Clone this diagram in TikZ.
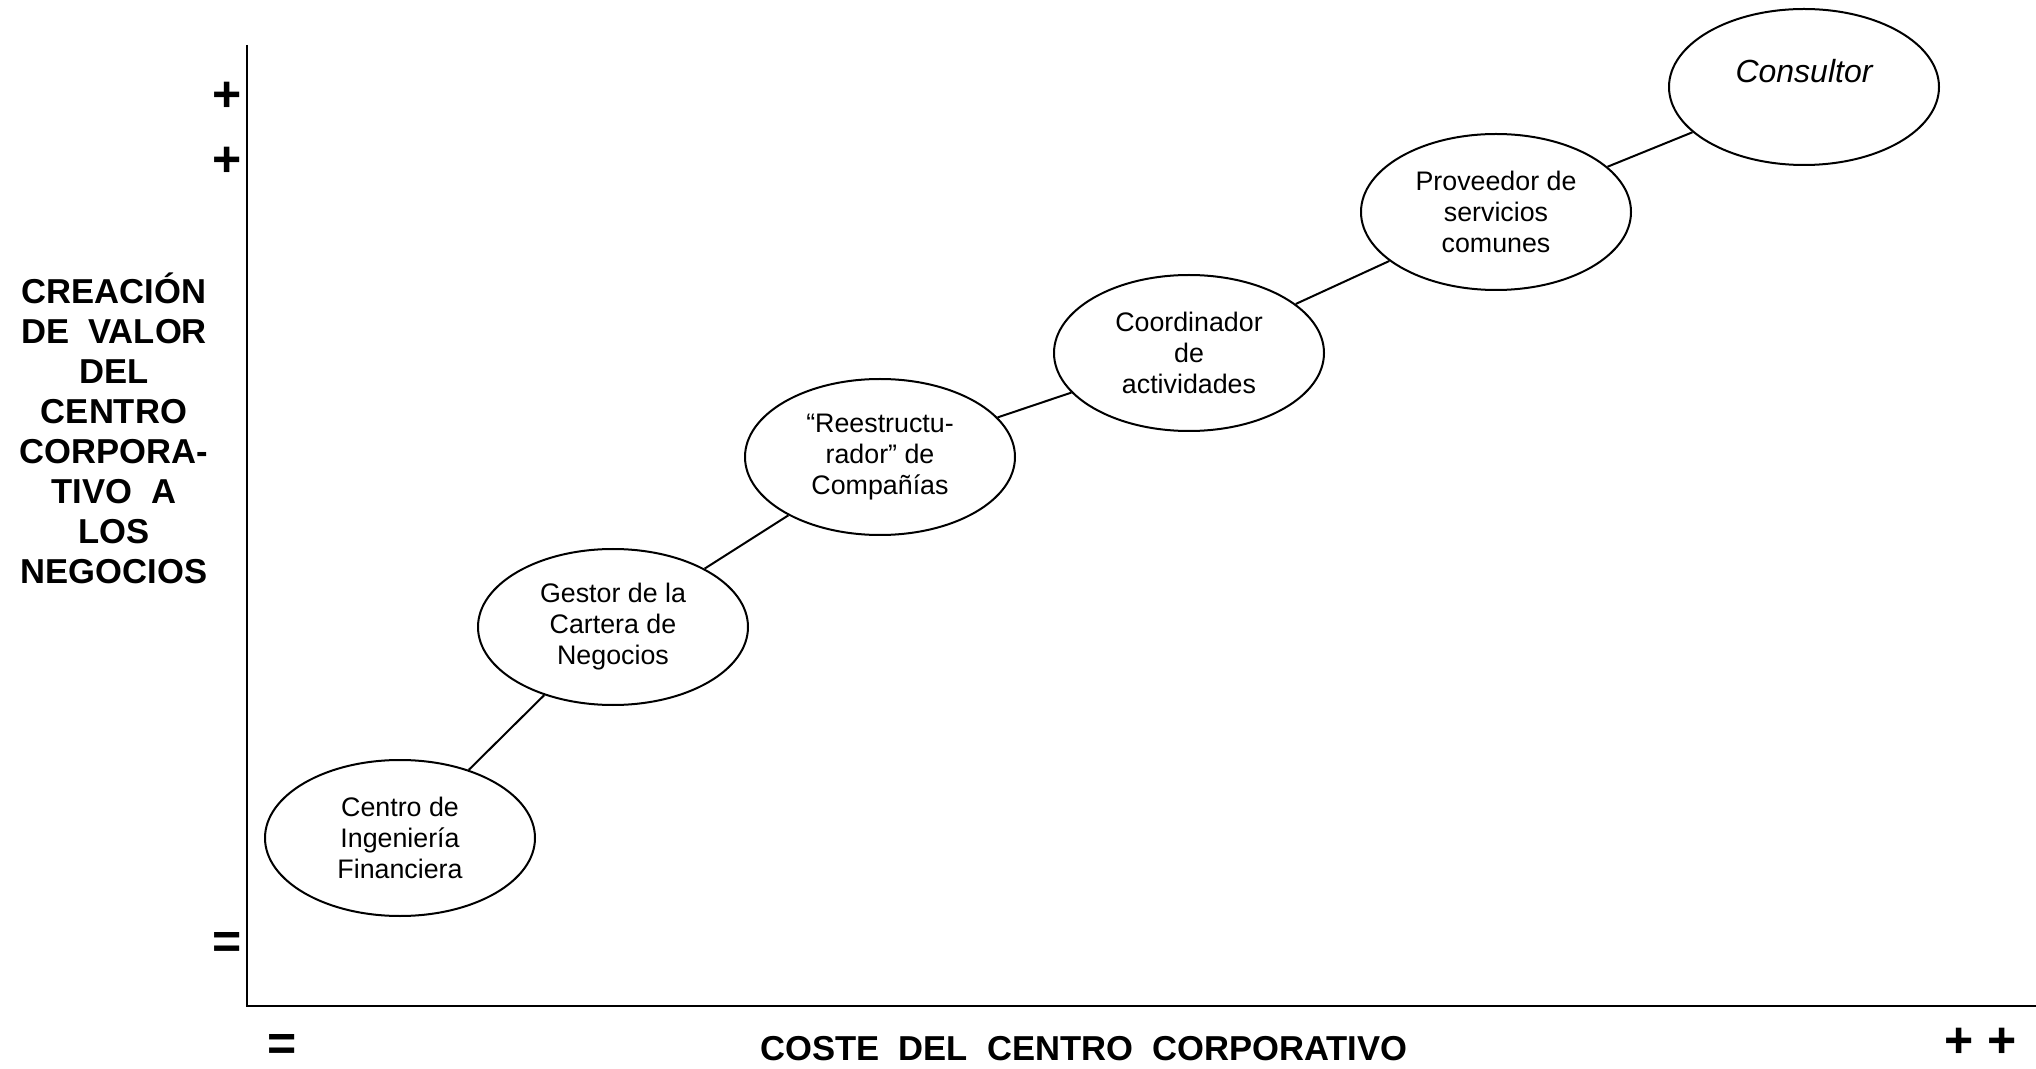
\documentclass[tikz,border=0pt]{standalone}
\usepackage{fontspec}
\setmainfont{Liberation Sans}
\usetikzlibrary{shapes.geometric}

\begin{document}
\begin{tikzpicture}[x=0.5pt,y=-0.5pt,
  rol/.style={draw=black,ellipse,line width=1pt,inner sep=0pt,
    minimum width=135pt,minimum height=78pt,align=center,
    font=\fontsize{13.4}{15.5}\selectfont},
  eje/.style={font=\bfseries\fontsize{17.3}{20}\selectfont,align=center},
  signo/.style={font=\bfseries\fontsize{25}{28}\selectfont,inner sep=0pt}]
\useasboundingbox (0,0) rectangle (2036,1069);
% ejes
\coordinate (ytop) at (247,45);
\coordinate (origen) at (247,1006);
\coordinate (xend) at (2036,1006);
\draw [line width=1.3pt] (ytop) -- (origen) -- (xend);
\node [eje] (ylab) at (114,428) {CREACI\'ON\\DE~~VALOR\\DEL\\CENTRO\\CORPORA-\\TIVO~~A\\LOS\\NEGOCIOS};
\node [eje] (xlab) at (1084,1049) {COSTE~~DEL~~CENTRO~~CORPORATIVO};
\node [signo] (mas1) at (227,97) {+};
\node [signo] (mas2) at (227,162) {+};
\node [signo] (igual1) at (227,945) {=};
\node [signo] (igual2) at (282,1047) {=};
\node [signo] (masmas) at (1981,1043) {+~+};
% roles
\node [rol] (c1) at (400,838) {Centro de\\Ingenier\'ia\\Financiera};
\node [rol] (c2) at (613,627) {Gestor de la\\Cartera de\\Negocios};
\node [rol] (c3) at (880,457) {``Reestructu-\\rador'' de\\Compa\~n\'ias};
\node [rol] (c4) at (1189,353) {Coordinador\\de\\actividades};
\node [rol] (c5) at (1496,212) {Proveedor de\\servicios\\comunes};
\node [rol,font=\itshape\fontsize{16}{16}\selectfont] (c6) at (1804,87) {Consultor\\\mbox{}};
\draw [line width=1pt] (c1) -- (c2);
\draw [line width=1pt] (c2) -- (c3);
\draw [line width=1pt] (c3) -- (c4);
\draw [line width=1pt] (c4) -- (c5);
\draw [line width=1pt] (c5) -- (c6);
\end{tikzpicture}
\end{document}
